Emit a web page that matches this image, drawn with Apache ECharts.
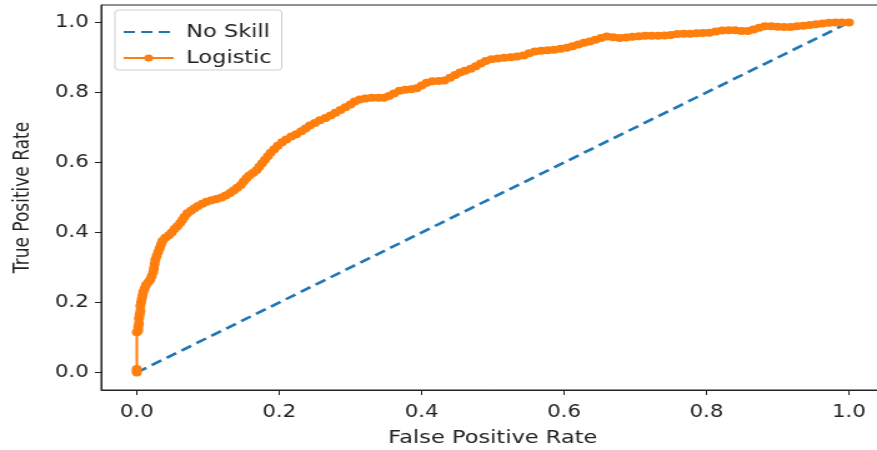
<!DOCTYPE html>
<html>
<head>
<meta charset="utf-8">
<script src="https://cdn.jsdelivr.net/npm/echarts@6/dist/echarts.min.js"></script>
<style>
  html, body { margin: 0; padding: 0; background: #fff; overflow: hidden; }
  #wrap { width: 877px; height: 450px; overflow: hidden; }
  #chart { width: 702px; height: 450px; transform: scaleX(1.2493); transform-origin: 0 0; }
</style>
</head>
<body>
<div id="wrap"><div id="chart"></div></div>
<script>
// Axis tick positions
const xTicks = [0, 0.2, 0.4, 0.6, 0.8, 1.0];
const yTicks = [0, 0.2, 0.4, 0.6, 0.8, 1.0];

// Reference line: a classifier with no skill
const noSkillFpr = [0, 1];
const noSkillTpr = [0, 1];

// ROC curve of the logistic regression model
const logisticFpr = [
  0, 0, 0, 0, 0.002, 0.002, 0.003, 0.003, 0.004, 0.005, 0.005, 0.006, 0.007, 0.008, 0.009,
  0.011, 0.013, 0.016, 0.019, 0.021, 0.023, 0.024, 0.025, 0.026, 0.028, 0.030, 0.032, 0.034,
  0.036, 0.040, 0.045, 0.049, 0.053, 0.057, 0.061, 0.064, 0.067, 0.071, 0.076, 0.081, 0.086,
  0.092, 0.098, 0.105, 0.112, 0.119, 0.125, 0.131, 0.136, 0.141, 0.146, 0.150, 0.154, 0.158,
  0.163, 0.168, 0.172, 0.176, 0.180, 0.184, 0.188, 0.193, 0.198, 0.204, 0.210, 0.217, 0.224,
  0.231, 0.237, 0.243, 0.250, 0.257, 0.265, 0.272, 0.279, 0.286, 0.293, 0.300, 0.306, 0.313,
  0.321, 0.330, 0.339, 0.347, 0.354, 0.361, 0.369, 0.377, 0.385, 0.393, 0.400, 0.407, 0.415,
  0.424, 0.432, 0.440, 0.447, 0.454, 0.461, 0.469, 0.476, 0.483, 0.490, 0.498, 0.507, 0.516,
  0.525, 0.534, 0.543, 0.551, 0.559, 0.568, 0.577, 0.586, 0.595, 0.604, 0.612, 0.620, 0.628,
  0.636, 0.644, 0.652, 0.660, 0.669, 0.678, 0.687, 0.696, 0.705, 0.714, 0.723, 0.732, 0.741,
  0.750, 0.759, 0.768, 0.777, 0.786, 0.795, 0.804, 0.813, 0.822, 0.831, 0.840, 0.849, 0.858,
  0.866, 0.874, 0.882, 0.891, 0.900, 0.909, 0.918, 0.927, 0.936, 0.945, 0.954, 0.963, 0.972,
  0.981, 0.990, 1.0
];
const logisticTpr = [
  0, 0.005, 0.01, 0.115, 0.12, 0.13, 0.14, 0.155, 0.165, 0.175, 0.19, 0.2, 0.21, 0.22, 0.23,
  0.24, 0.25, 0.258, 0.266, 0.276, 0.287, 0.298, 0.31, 0.322, 0.333, 0.344, 0.355, 0.366,
  0.376, 0.385, 0.392, 0.4, 0.41, 0.418, 0.427, 0.436, 0.445, 0.455, 0.462, 0.469, 0.476,
  0.482, 0.488, 0.492, 0.496, 0.5, 0.506, 0.513, 0.52, 0.528, 0.536, 0.546, 0.555, 0.563,
  0.57, 0.578, 0.588, 0.598, 0.608, 0.618, 0.628, 0.638, 0.648, 0.658, 0.666, 0.674, 0.681,
  0.689, 0.697, 0.706, 0.713, 0.721, 0.727, 0.734, 0.742, 0.75, 0.758, 0.766, 0.774, 0.78,
  0.783, 0.785, 0.785, 0.785, 0.79, 0.797, 0.805, 0.808, 0.809, 0.812, 0.82, 0.828, 0.832,
  0.833, 0.834, 0.842, 0.85, 0.857, 0.862, 0.868, 0.875, 0.883, 0.89, 0.895, 0.897, 0.899,
  0.901, 0.903, 0.906, 0.912, 0.917, 0.919, 0.921, 0.922, 0.925, 0.928, 0.932, 0.937, 0.942,
  0.946, 0.951, 0.956, 0.96, 0.958, 0.956, 0.957, 0.959, 0.961, 0.962, 0.962, 0.962, 0.963,
  0.964, 0.967, 0.968, 0.968, 0.969, 0.97, 0.971, 0.974, 0.977, 0.978, 0.978, 0.976, 0.976,
  0.98, 0.985, 0.989, 0.989, 0.988, 0.987, 0.987, 0.989, 0.991, 0.993, 0.995, 0.997, 0.999,
  1.0, 1.0, 1.0
];

const BLUE = '#1f77b4';
const ORANGE = '#ff7f0e';
const TEXT = '#222';
const FONT = '"DejaVu Sans", sans-serif';

const pairs = (xs, ys) => xs.map((x, i) => [x, ys[i]]);

const axisCommon = {
  type: 'value',
  min: -0.05,
  max: 1.05,
  splitLine: { show: false },
  axisLine: { show: true, onZero: false, lineStyle: { color: '#222', width: 1 } },
  axisTick: { show: true, inside: false, length: 5, lineStyle: { color: '#222', width: 1 } },
  nameLocation: 'middle',
  nameTextStyle: { color: TEXT, fontFamily: FONT, fontSize: 18 }
};

const chart = echarts.init(document.getElementById('chart'), null, { renderer: 'canvas' });
chart.setOption({
  animation: false,
  backgroundColor: '#fff',
  grid: {
    left: 81, top: 5, width: 627, height: 385,
    outerBoundsMode: 'none',
    containLabel: false,
    show: true, borderColor: '#222', borderWidth: 1, backgroundColor: 'transparent'
  },
  xAxis: Object.assign({}, axisCommon, {
    name: 'False Positive Rate',
    nameGap: 39,
    axisTick: Object.assign({}, axisCommon.axisTick, { customValues: xTicks }),
    axisLabel: {
      customValues: xTicks, margin: 14, color: TEXT, fontFamily: FONT, fontSize: 17,
      formatter: v => v.toFixed(1)
    }
  }),
  yAxis: Object.assign({}, axisCommon, {
    name: 'True Positive Rate',
    nameGap: 54,
    nameTextStyle: { color: TEXT, fontFamily: FONT, fontSize: 17 },
    axisTick: Object.assign({}, axisCommon.axisTick, { customValues: yTicks }),
    axisLabel: {
      customValues: yTicks, margin: 10, color: TEXT, fontFamily: FONT, fontSize: 17,
      formatter: v => v.toFixed(1)
    }
  }),
  legend: {
    orient: 'vertical',
    left: 92, top: 10,
    padding: [13, 8, 3, 6],
    itemWidth: 40, itemHeight: 9, itemGap: 8,
    backgroundColor: 'rgba(255,255,255,0.8)',
    borderColor: '#d0d0d0', borderWidth: 1, borderRadius: 3,
    textStyle: { color: TEXT, fontFamily: FONT, fontSize: 18, padding: [0, 0, 0, 5] },
    data: [
      { name: 'No Skill', itemStyle: { color: 'rgba(0,0,0,0)', borderWidth: 0, opacity: 0 } },
      { name: 'Logistic' }
    ]
  },
  series: [
    {
      name: 'No Skill',
      type: 'line',
      data: pairs(noSkillFpr, noSkillTpr),
      symbol: 'none',
      lineStyle: { color: BLUE, width: 2.6, type: [9, 5] },
      itemStyle: { color: BLUE },
      z: 2
    },
    {
      name: 'Logistic',
      type: 'line',
      data: pairs(logisticFpr, logisticTpr),
      symbol: 'circle',
      symbolSize: 8,
      showAllSymbol: true,
      lineStyle: { color: ORANGE, width: 2 },
      itemStyle: { color: ORANGE },
      z: 3
    }
  ]
});
</script>
</body>
</html>
